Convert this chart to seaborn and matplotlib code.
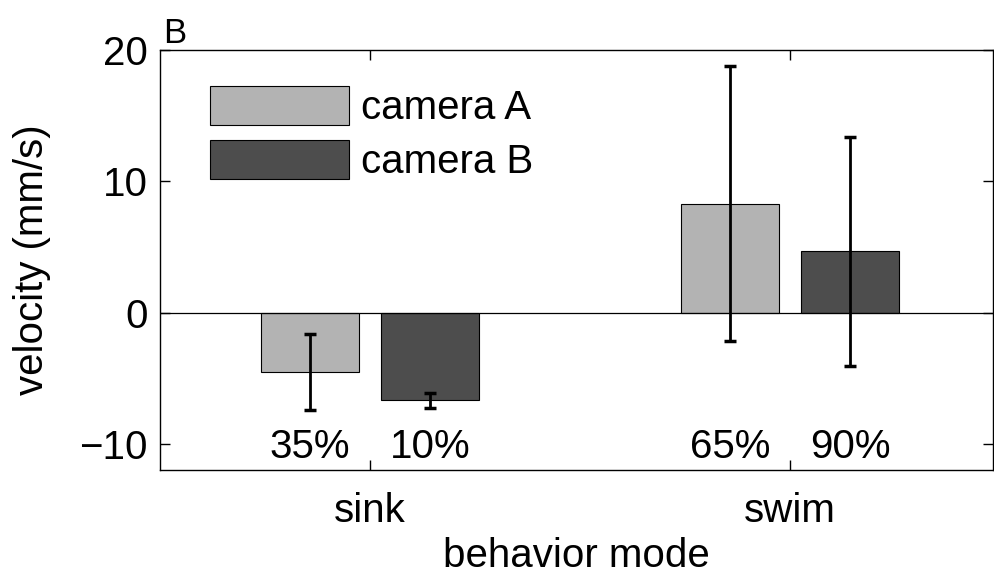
import matplotlib
matplotlib.use("Agg")
import matplotlib.pyplot as plt
import seaborn as sns
import pandas as pd

# Mean swimming velocity per behaviour mode, for both cameras
modes = ["sink", "swim"]
cameras = ["camera A", "camera B"]
velocity_a = [-4.5, 8.3]
velocity_b = [-6.7, 4.65]
error_a = [2.9, 10.45]
error_b = [0.6, 8.7]
share_a = ["35%", "65%"]
share_b = ["10%", "90%"]
yticks = [-10, 0, 10, 20]

df = pd.DataFrame({
    "mode": modes * 2,
    "camera": [cameras[0]] * 2 + [cameras[1]] * 2,
    "velocity": velocity_a + velocity_b,
    "err": error_a + error_b,
    "share": share_a + share_b,
})

FS = 29

sns.set_theme(style="white")
plt.rcParams["font.family"] = ["Liberation Sans", "DejaVu Sans"]
plt.rcParams["font.size"] = FS
plt.rcParams["text.color"] = "black"
plt.rcParams["axes.labelcolor"] = "black"
plt.rcParams["xtick.color"] = "black"
plt.rcParams["ytick.color"] = "black"

fig = plt.figure(figsize=(9.94, 5.79), dpi=100)
ax = fig.add_axes([160 / 994, 109 / 579, 833 / 994, 420 / 579])

sns.barplot(data=df, x="mode", y="velocity", hue="camera", order=modes,
            hue_order=cameras, palette=["#b3b3b3", "#4d4d4d"], width=0.571,
            gap=0.18, errorbar=None, edgecolor="black", linewidth=0.8,
            saturation=1, ax=ax)

# error bars and percentage labels at each bar centre
bars = [p for p in ax.patches if p.get_height() != 0]
rows = [(c, m) for c in cameras for m in modes]
for patch, (cam, mode) in zip(bars, rows):
    r = df[(df["camera"] == cam) & (df["mode"] == mode)].iloc[0]
    xc = patch.get_x() + patch.get_width() / 2
    ax.errorbar(xc, r["velocity"], yerr=r["err"], color="black", lw=2,
                capsize=4, capthick=2.5)
    ax.text(xc, -11.1, r["share"], ha="center", va="baseline", fontsize=FS,
            color="black")

ax.axhline(0, color="black", lw=0.9, zorder=1)
ax.set_xlim(-0.5, 1.483)
ax.set_ylim(-12, 20)
ax.set_yticks(yticks)
ax.set_xlabel("behavior mode", fontsize=FS, labelpad=5)
ax.set_ylabel("velocity (mm/s)", fontsize=FS, labelpad=20)

for s in ax.spines.values():
    s.set_visible(True)
    s.set_color("black")
    s.set_linewidth(1.0)
ax.tick_params(direction="in", length=7, width=1.0, colors="black",
               top=True, right=True, left=True, bottom=True, labelsize=FS)
ax.tick_params(axis="x", pad=16)
ax.tick_params(axis="y", pad=9)

handles, labels = ax.get_legend_handles_labels()
ax.legend(handles, labels, loc="upper left", bbox_to_anchor=(0.06, 0.915),
          frameon=False, fontsize=FS, handlelength=3.45, handleheight=1.12,
          handletextpad=0.3, labelspacing=0.32, borderpad=0, borderaxespad=0)

fig.text(163 / 994, (579 - 43) / 579, "B", fontsize=25, ha="left",
         va="baseline", color="black")

fig.savefig("out.png", dpi=100)
